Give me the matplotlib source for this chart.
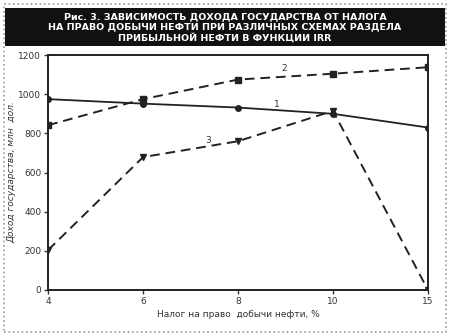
import numpy as np
import matplotlib.pyplot as plt
from matplotlib.patches import Rectangle

# Данные с рисунка
tax_rates = ['4', '6', '8', '10', '15']
scheme1 = [975, 952, 932, 900, 830]
scheme2 = [842, 975, 1075, 1105, 1138]
scheme3 = [204, 679, 760, 915, 0]

title = ('Рис. 3. ЗАВИСИМОСТЬ ДОХОДА ГОСУДАРСТВА ОТ НАЛОГА\n'
         'НА ПРАВО ДОБЫЧИ НЕФТИ ПРИ РАЗЛИЧНЫХ СХЕМАХ РАЗДЕЛА\n'
         'ПРИБЫЛЬНОЙ НЕФТИ В ФУНКЦИИ IRR')

fig = plt.figure(figsize=(4.5, 3.36), dpi=100)
fig.patch.set_facecolor('white')

# рамка вокруг рисунка
fig.patches.append(Rectangle((0.008, 0.012), 0.984, 0.976, transform=fig.transFigure,
                             fill=False, edgecolor='#999999', linewidth=1.2, linestyle=':'))
# черная плашка заголовка
fig.patches.append(Rectangle((0.012, 0.862), 0.976, 0.114, transform=fig.transFigure,
                             facecolor='#111111', edgecolor='none'))
fig.text(0.5, 0.919, title, ha='center', va='center', color='white',
         fontsize=6.8, fontweight='bold', linespacing=1.2, family='DejaVu Sans')

ax = fig.add_axes([0.107, 0.137, 0.844, 0.699])
x = np.arange(len(tax_rates))

ax.plot(x, scheme1, color='#222222', linewidth=1.3, marker='o', markersize=4)
ax.plot(x, scheme2, color='#222222', linewidth=1.4, linestyle=(0, (5, 3)),
        marker='s', markersize=4.5)
ax.plot(x, scheme3, color='#222222', linewidth=1.4, linestyle=(0, (5, 3)),
        marker='v', markersize=5)

ax.text(2.38, 935, '1', fontsize=6.5, color='#333333')
ax.text(2.46, 1120, '2', fontsize=6.5, color='#333333')
ax.text(1.66, 750, '3', fontsize=6.5, color='#333333')

ax.set_xlim(0, 4)
ax.set_ylim(0, 1200)
ax.set_xticks(x)
ax.set_xticklabels(tax_rates)
ax.set_yticks(np.arange(0, 1201, 200))
ax.tick_params(labelsize=6.5, length=3, width=1, colors='#333333', pad=2)
for s in ax.spines.values():
    s.set_linewidth(1.4)
    s.set_color('#222222')

ax.set_xlabel('Налог на право  добычи нефти, %', fontsize=6.5, color='#333333', labelpad=3)
ax.set_ylabel('Доход государства, млн  дол.', fontsize=6.5, color='#333333',
              style='italic', labelpad=1)

fig.savefig('out.png', dpi=100)
